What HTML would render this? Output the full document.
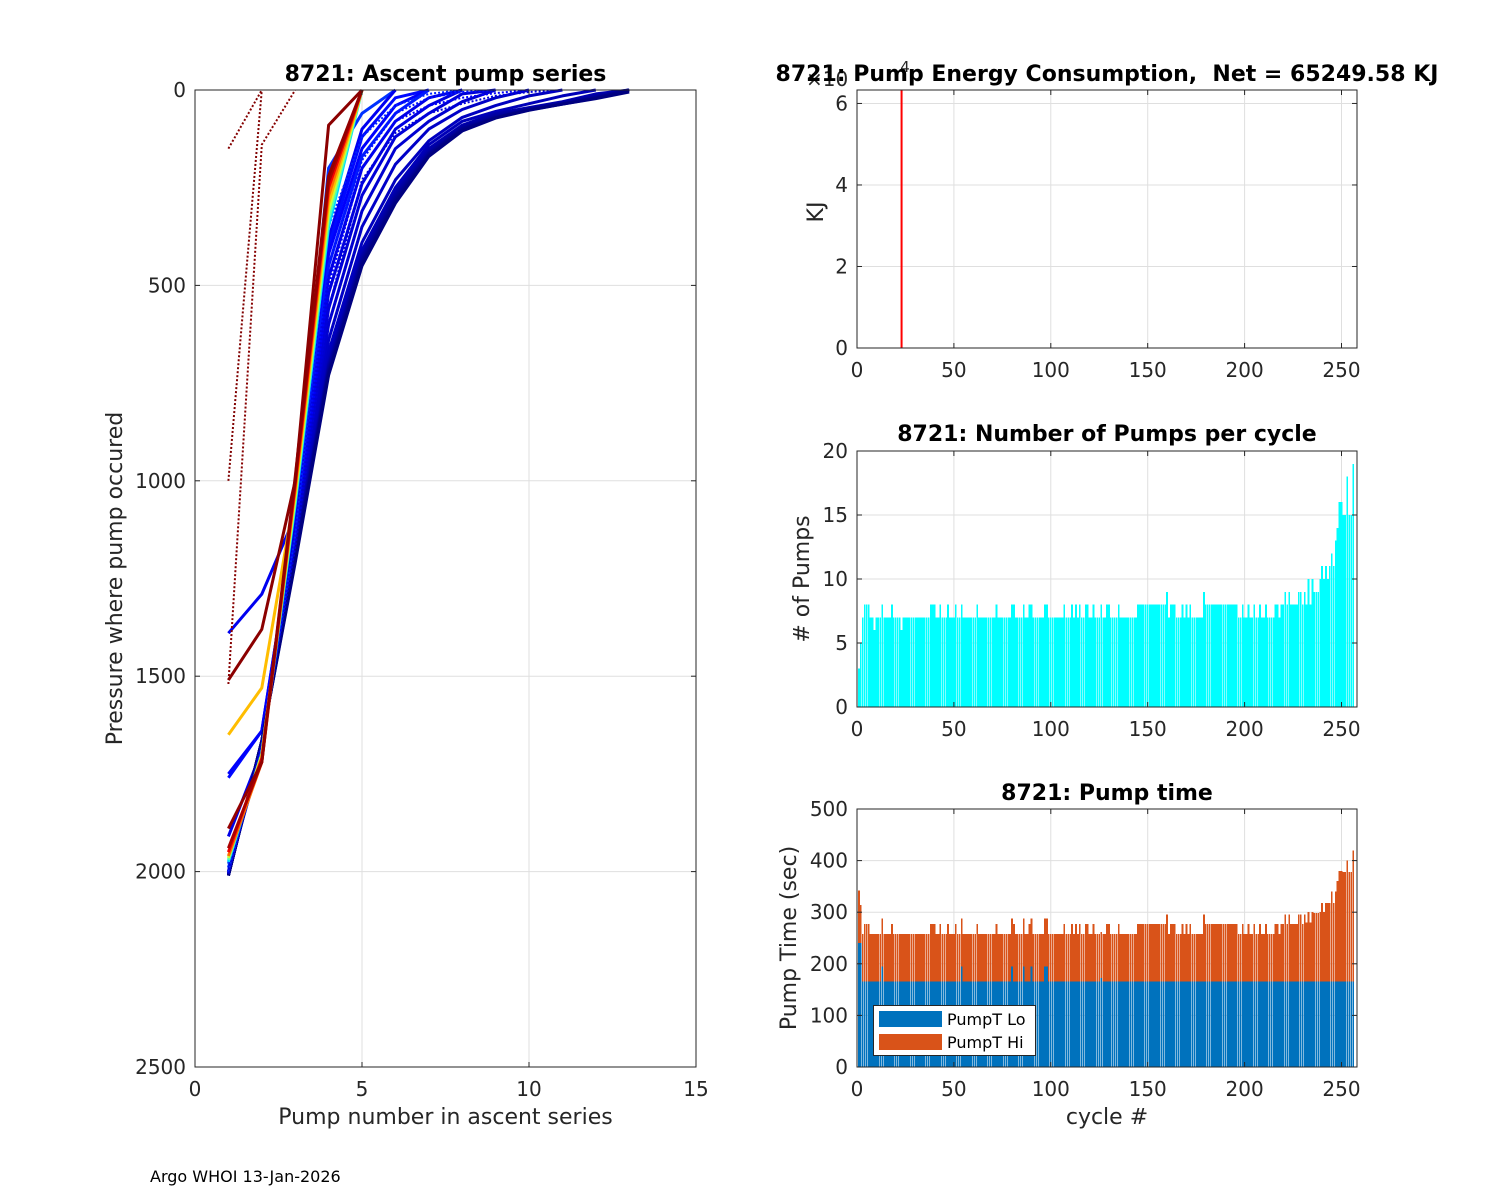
<!DOCTYPE html>
<html><head><meta charset="utf-8"><style>
html,body{margin:0;padding:0;background:#fff;}
svg{display:block;font-family:"DejaVu Sans","Liberation Sans",sans-serif;}
</style></head><body>
<svg id="fig" width="1500" height="1200" viewBox="0 0 1500 1200" xmlns="http://www.w3.org/2000/svg">
<rect x="0" y="0" width="1500" height="1200" fill="#fff"/>
<g id="gL"></g>
<g id="gE"></g>
<g id="gP"></g>
<g id="gT"></g>
<text x="150" y="1182" font-size="16" fill="#000">Argo WHOI 13-Jan-2026</text>
</svg>
<script>
// ---------- data ----------
const profileCycles = [205,212,228,222,225,218,230,232,234,236,238,240,242,244,246,248,250,252,254,256,215,220,226,233,170,140,110,80,60,30,12,6,4,3,2,1];
const profileDotted = [0,0,0,0,0,0,0,0,0,0,0,0,0,0,0,0,0,0,0,0,1,1,1,1,0,0,0,0,0,0,0,0,0,1,1,1];
const profilePressures = [
 [1980,1700,1070,250,0],
 [1990,1700,1080,200,60,0],
 [1390,1290,1090,380,100,0],
 [1760,1640,1100,400,120,20,0],
 [1750,1640,1100,420,150,40,0],
 [2000,1690,1110,450,170,60,0],
 [1910,1690,1120,480,200,80,20,0],
 [2000,1680,1130,520,240,100,40,0],
 [2000,1680,1140,560,270,120,60,10,0],
 [2005,1680,1150,600,310,150,80,30,0],
 [2005,1675,1160,640,350,190,100,50,20,0],
 [2005,1670,1170,670,390,230,130,70,40,15,0],
 [2010,1670,1180,690,410,250,140,80,55,35,15,0],
 [2010,1670,1180,700,420,260,150,90,60,45,30,10,0],
 [2010,1670,1190,705,425,265,155,92,62,46,32,14,0],
 [2010,1670,1190,710,430,270,160,95,65,48,33,16,0],
 [2010,1665,1200,715,435,275,162,98,68,50,35,18,0],
 [2010,1665,1200,720,440,280,165,100,70,50,35,20,0],
 [2010,1665,1205,725,445,285,168,102,71,51,36,21,0],
 [2010,1665,1210,730,450,290,170,105,72,52,36,22,5],
 [2000,1680,1140,350,120,40,10,0],
 [2005,1680,1150,450,180,60,20,5,0],
 [2005,1675,1160,500,200,80,40,20,8,0],
 [2005,1670,1170,560,230,110,60,35,15,5,0],
 [1975,1700,1060,350,0],
 [1970,1700,1050,330,0],
 [1965,1700,1040,310,0],
 [1650,1530,1030,290,0],
 [1960,1720,1020,270,0],
 [1950,1710,1010,250,0],
 [1940,1720,1000,235,0],
 [1890,1720,990,220,0],
 [1510,1380,1000,90,0],
 [1520,140,0],
 [150,0],
 [1000,0]
];
const energyCycles = [23];
const energyValues = [65249.58];
const pumpCounts = [
 3,5,7,8,8,8,7,7,6,7,
 7,7,8,7,7,7,7,8,7,7,
 7,7,6,7,7,7,7,7,7,7,
 7,7,7,7,7,7,7,8,8,8,
 7,7,8,7,7,7,8,7,7,7,
 8,7,7,8,7,7,7,7,7,7,
 7,8,7,7,7,7,7,7,7,7,
 7,8,7,7,7,7,7,7,7,8,
 8,7,7,7,7,8,7,7,8,8,
 7,7,7,7,7,7,8,8,7,7,
 7,7,7,7,7,7,8,7,7,7,
 8,7,8,7,8,7,7,8,8,7,
 7,8,7,7,7,8,7,7,8,8,
 7,7,7,7,8,7,7,7,7,7,
 7,7,7,7,8,8,8,8,8,8,
 8,8,8,8,8,8,8,8,8,9,
 7,8,8,8,7,7,7,8,7,8,
 7,8,7,7,7,7,7,7,9,8,
 8,8,8,8,8,8,8,8,8,8,
 8,8,8,8,8,8,7,7,8,7,
 7,8,7,7,8,7,7,8,7,7,
 8,7,7,7,7,8,8,7,8,8,
 9,8,9,8,8,8,8,9,9,8,
 9,8,10,8,10,9,9,9,10,11,
 10,11,10,11,12,11,13,14,16,16,
 15,15,18,15,15,19
];
const pumpTimeTotal = [
 342,314,258,277,277,277,258,258,258,258,
 258,258,288,258,258,258,258,277,258,258,
 258,258,258,258,258,258,258,258,258,258,
 258,258,258,258,258,258,258,277,277,277,
 258,258,277,258,258,258,277,258,258,258,
 277,258,258,288,258,258,258,258,258,258,
 258,277,258,258,258,258,258,258,258,258,
 258,277,258,258,258,258,258,258,258,288,
 277,258,258,258,258,288,258,258,277,288,
 258,258,258,258,258,258,288,288,258,258,
 258,258,258,258,258,258,277,258,258,258,
 277,258,277,258,277,258,258,277,277,258,
 258,277,258,258,258,262,258,258,277,277,
 258,258,258,258,277,258,258,258,258,258,
 258,258,258,258,277,277,277,277,277,277,
 277,277,277,277,277,277,277,277,277,296,
 258,277,277,277,258,258,258,277,258,277,
 258,277,258,258,258,258,258,258,296,277,
 277,277,277,277,277,277,277,277,277,277,
 277,277,277,277,277,277,258,258,277,258,
 258,277,258,258,277,258,258,277,258,258,
 277,258,258,258,258,277,277,258,277,277,
 296,277,296,277,277,277,277,296,296,277,
 296,280,300,280,300,298,298,298,300,318,
 300,318,318,318,340,318,340,360,380,380,
 378,378,400,378,378,420
];
const pumpTimeLo = [
 240,240,166,166,166,166,166,166,166,166,
 166,166,195,166,166,166,166,166,166,166,
 166,166,166,166,166,166,166,166,166,166,
 166,166,166,166,166,166,166,166,166,166,
 166,166,166,166,166,166,166,166,166,166,
 166,166,166,195,166,166,166,166,166,166,
 166,166,166,166,166,166,166,166,166,166,
 166,166,166,166,166,166,166,166,166,195,
 166,166,166,166,166,195,166,166,166,195,
 166,166,166,166,166,166,195,195,166,166,
 166,166,166,166,166,166,166,166,166,166,
 166,166,166,166,166,166,166,166,166,166,
 166,166,166,166,166,172,166,166,166,166,
 166,166,166,166,166,166,166,166,166,166,
 166,166,166,166,166,166,166,166,166,166,
 166,166,166,166,166,166,166,166,166,166,
 166,166,166,166,166,166,166,166,166,166,
 166,166,166,166,166,166,166,166,166,166,
 166,166,166,166,166,166,166,166,166,166,
 166,166,166,166,166,166,166,166,166,166,
 166,166,166,166,166,166,166,166,166,166,
 166,166,166,166,166,166,166,166,166,166,
 166,166,166,166,166,166,166,166,166,166,
 166,166,166,166,166,166,166,166,166,166,
 166,166,166,166,166,166,166,166,166,166,
 166,166,166,166,166,166
];
const leftXTicks = [0,5,10,15];
const leftYTicks = [0,500,1000,1500,2000,2500];
const cycleTicks = [0,50,100,150,200,250];
const energyTicks = [0,2,4,6];
const countTicks = [0,5,10,15,20];
const timeTicks = [0,100,200,300,400,500];

// ---------- helpers ----------
const NS = "http://www.w3.org/2000/svg";
function mk(parent, tag, attrs, text) {
  const e = document.createElementNS(NS, tag);
  for (const k in attrs) e.setAttribute(k, attrs[k]);
  if (text !== undefined) e.textContent = text;
  parent.appendChild(e);
  return e;
}
function jet(t) {
  const c = v => Math.round(255 * Math.max(0, Math.min(1, v)));
  return `rgb(${c(1.5 - Math.abs(4*t - 3))},${c(1.5 - Math.abs(4*t - 2))},${c(1.5 - Math.abs(4*t - 1))})`;
}
const AX = "#262626", GRID = "#dfdfdf";

function axesFrame(g, L, T, R, B, xt, xs, yt, ys, name) {
  xt.forEach(v => {
    const x = xs(v);
    const l = mk(g, "line", {x1:x, x2:x, y1:T, y2:B, stroke:GRID, "stroke-width":1});
    
    
  });
  yt.forEach(v => {
    const y = ys(v);
    const l = mk(g, "line", {x1:L, x2:R, y1:y, y2:y, stroke:GRID, "stroke-width":1});
    
    
  });
}
function axesBox(g, L, T, R, B, xt, xs, yt, ys, xlab, ylab, name) {
  const box = mk(g, "rect", {x:L, y:T, width:R-L, height:B-T, fill:"none", stroke:AX, "stroke-width":1});
  
  
  xt.forEach(v => {
    const x = xs(v);
    mk(g, "line", {x1:x, x2:x, y1:B, y2:B-5, stroke:AX});
    mk(g, "line", {x1:x, x2:x, y1:T, y2:T+5, stroke:AX});
    const t = mk(g, "text", {x:x, y:B+29, "font-size":20, fill:AX, "text-anchor":"middle"}, xlab(v));
    
    
  });
  yt.forEach(v => {
    const y = ys(v);
    mk(g, "line", {x1:L, x2:L+5, y1:y, y2:y, stroke:AX});
    mk(g, "line", {x1:R, x2:R-5, y1:y, y2:y, stroke:AX});
    const t = mk(g, "text", {x:L-9, y:y+7, "font-size":20, fill:AX, "text-anchor":"end"}, ylab(v));
    
    
  });
}
function label(g, x, y, txt, opts, name) {
  const a = Object.assign({x:x, y:y, "font-size":22, fill:AX, "text-anchor":"middle"}, opts || {});
  const t = mk(g, "text", a, txt);
  
  
  return t;
}

// ---------- left: ascent pump series ----------
(function(){
  const g = document.getElementById("gL");
  const L=195, T=90, R=696, B=1067;
  const xs = v => L + v * (R-L) / 15;
  const ys = p => T + p * (B-T) / 2500;
  axesFrame(g, L,T,R,B, leftXTicks, xs, leftYTicks, ys, "ascent");
  profilePressures.forEach((pr, i) => {
    const pts = pr.map((p, k) => xs(k+1).toFixed(1) + "," + ys(p).toFixed(1)).join(" ");
    const col = jet(1 - (profileCycles[i]-1)/255);
    const a = {points:pts, fill:"none", stroke:col, "stroke-width":3, "stroke-linejoin":"round"};
    if (profileDotted[i]) { a["stroke-dasharray"] = "2,2"; a["stroke-width"] = 2; }
    const pl = mk(g, "polyline", a);
    
    
  });
  axesBox(g, L,T,R,B, leftXTicks, xs, leftYTicks, ys, v=>String(v), v=>String(v), "ascent");
  label(g, (L+R)/2, 81, "8721: Ascent pump series", {"font-weight":"bold", fill:"#000"}, "ascent-title");
  label(g, (L+R)/2, 1124, "Pump number in ascent series", {}, "ascent-x-axis-title");
  label(g, 122, (T+B)/2, "Pressure where pump occured", {transform:`rotate(-90 122 ${(T+B)/2})`}, "ascent-y-axis-title");
})();

// ---------- right top: energy ----------
(function(){
  const g = document.getElementById("gE");
  const L=857, T=90, R=1357, B=348;
  const xs = c => L + c * (R-L) / 258;
  const ys = v => B - v * (B-T) / 63300;
  axesFrame(g, L,T,R,B, cycleTicks, xs, energyTicks, v => ys(v*1e4), "energy");
  energyCycles.forEach((c, i) => {
    const x = xs(c);
    const l = mk(g, "line", {x1:x, x2:x, y1:B, y2:Math.max(T, ys(energyValues[i])), stroke:"#ff0000", "stroke-width":2});
    
    
  });
  axesBox(g, L,T,R,B, cycleTicks, xs, energyTicks, v => ys(v*1e4), v=>String(v), v=>String(v), "energy");
  label(g, 806, 86, "×10", {"font-size":20, "text-anchor":"start", fill:AX}, "energy-exponent-label");
  label(g, 905, 72, "4", {"font-size":15, "text-anchor":"middle", fill:AX}, "energy-exponent-power");
  label(g, 1107, 81, "8721: Pump Energy Consumption,  Net = 65249.58 KJ", {"font-weight":"bold", fill:"#000", style:"white-space:pre"}, "energy-title");
  label(g, 823, 212, "KJ", {transform:"rotate(-90 823 212)"}, "energy-y-axis-title");
})();

// ---------- right middle: pumps per cycle ----------
(function(){
  const g = document.getElementById("gP");
  const L=857, T=451, R=1357, B=707;
  const xs = c => L + c * (R-L) / 258;
  const ys = n => B - n * (B-T) / 20;
  axesFrame(g, L,T,R,B, cycleTicks, xs, countTicks, ys, "pumps");
  const w = 0.9 * (R-L) / 258;
  pumpCounts.forEach((n, i) => {
    const c = i + 1;
    const r = mk(g, "rect", {x:xs(c)-w/2, y:ys(n), width:w, height:B-ys(n), fill:"#00ffff", "shape-rendering":"crispEdges"});
    
    
  });
  axesBox(g, L,T,R,B, cycleTicks, xs, countTicks, ys, v=>String(v), v=>String(v), "pumps");
  label(g, 1107, 441, "8721: Number of Pumps per cycle", {"font-weight":"bold", fill:"#000"}, "pumps-title");
  label(g, 809, 579, "# of Pumps", {transform:"rotate(-90 809 579)"}, "pumps-y-axis-title");
})();

// ---------- right bottom: pump time ----------
(function(){
  const g = document.getElementById("gT");
  const L=857, T=809, R=1357, B=1067;
  const xs = c => L + c * (R-L) / 258;
  const ys = t => B - t * (B-T) / 500;
  axesFrame(g, L,T,R,B, cycleTicks, xs, timeTicks, ys, "time");
  const w = 0.9 * (R-L) / 258;
  pumpTimeTotal.forEach((tot, i) => {
    const c = i + 1, lo = pumpTimeLo[i];
    const hi = mk(g, "rect", {x:xs(c)-w/2, y:ys(tot), width:w, height:ys(lo)-ys(tot), fill:"#d95319", "shape-rendering":"crispEdges"});
    
    
    const lr = mk(g, "rect", {x:xs(c)-w/2, y:ys(lo), width:w, height:B-ys(lo), fill:"#0072bd", "shape-rendering":"crispEdges"});
    
    
  });
  axesBox(g, L,T,R,B, cycleTicks, xs, timeTicks, ys, v=>String(v), v=>String(v), "time");
  label(g, 1107, 800, "8721: Pump time", {"font-weight":"bold", fill:"#000"}, "time-title");
  label(g, 1107, 1124, "cycle #", {}, "time-x-axis-title");
  label(g, 796, 938, "Pump Time (sec)", {transform:"rotate(-90 796 938)"}, "time-y-axis-title");
  const lg = mk(g, "g", {});
  
  
  mk(lg, "rect", {x:873.5, y:1005.5, width:162, height:50, fill:"#fff", stroke:"#262626"});
  const s1 = mk(lg, "rect", {x:879, y:1011, width:63, height:16, fill:"#0072bd"});
  
  
  const s2 = mk(lg, "rect", {x:879, y:1034, width:63, height:16, fill:"#d95319"});
  
  
  label(lg, 947, 1025, "PumpT Lo", {"font-size":16, "text-anchor":"start", fill:"#000"}, "legend-entry-lo");
  label(lg, 947, 1048, "PumpT Hi", {"font-size":16, "text-anchor":"start", fill:"#000"}, "legend-entry-hi");
})();
</script>
</body></html>
